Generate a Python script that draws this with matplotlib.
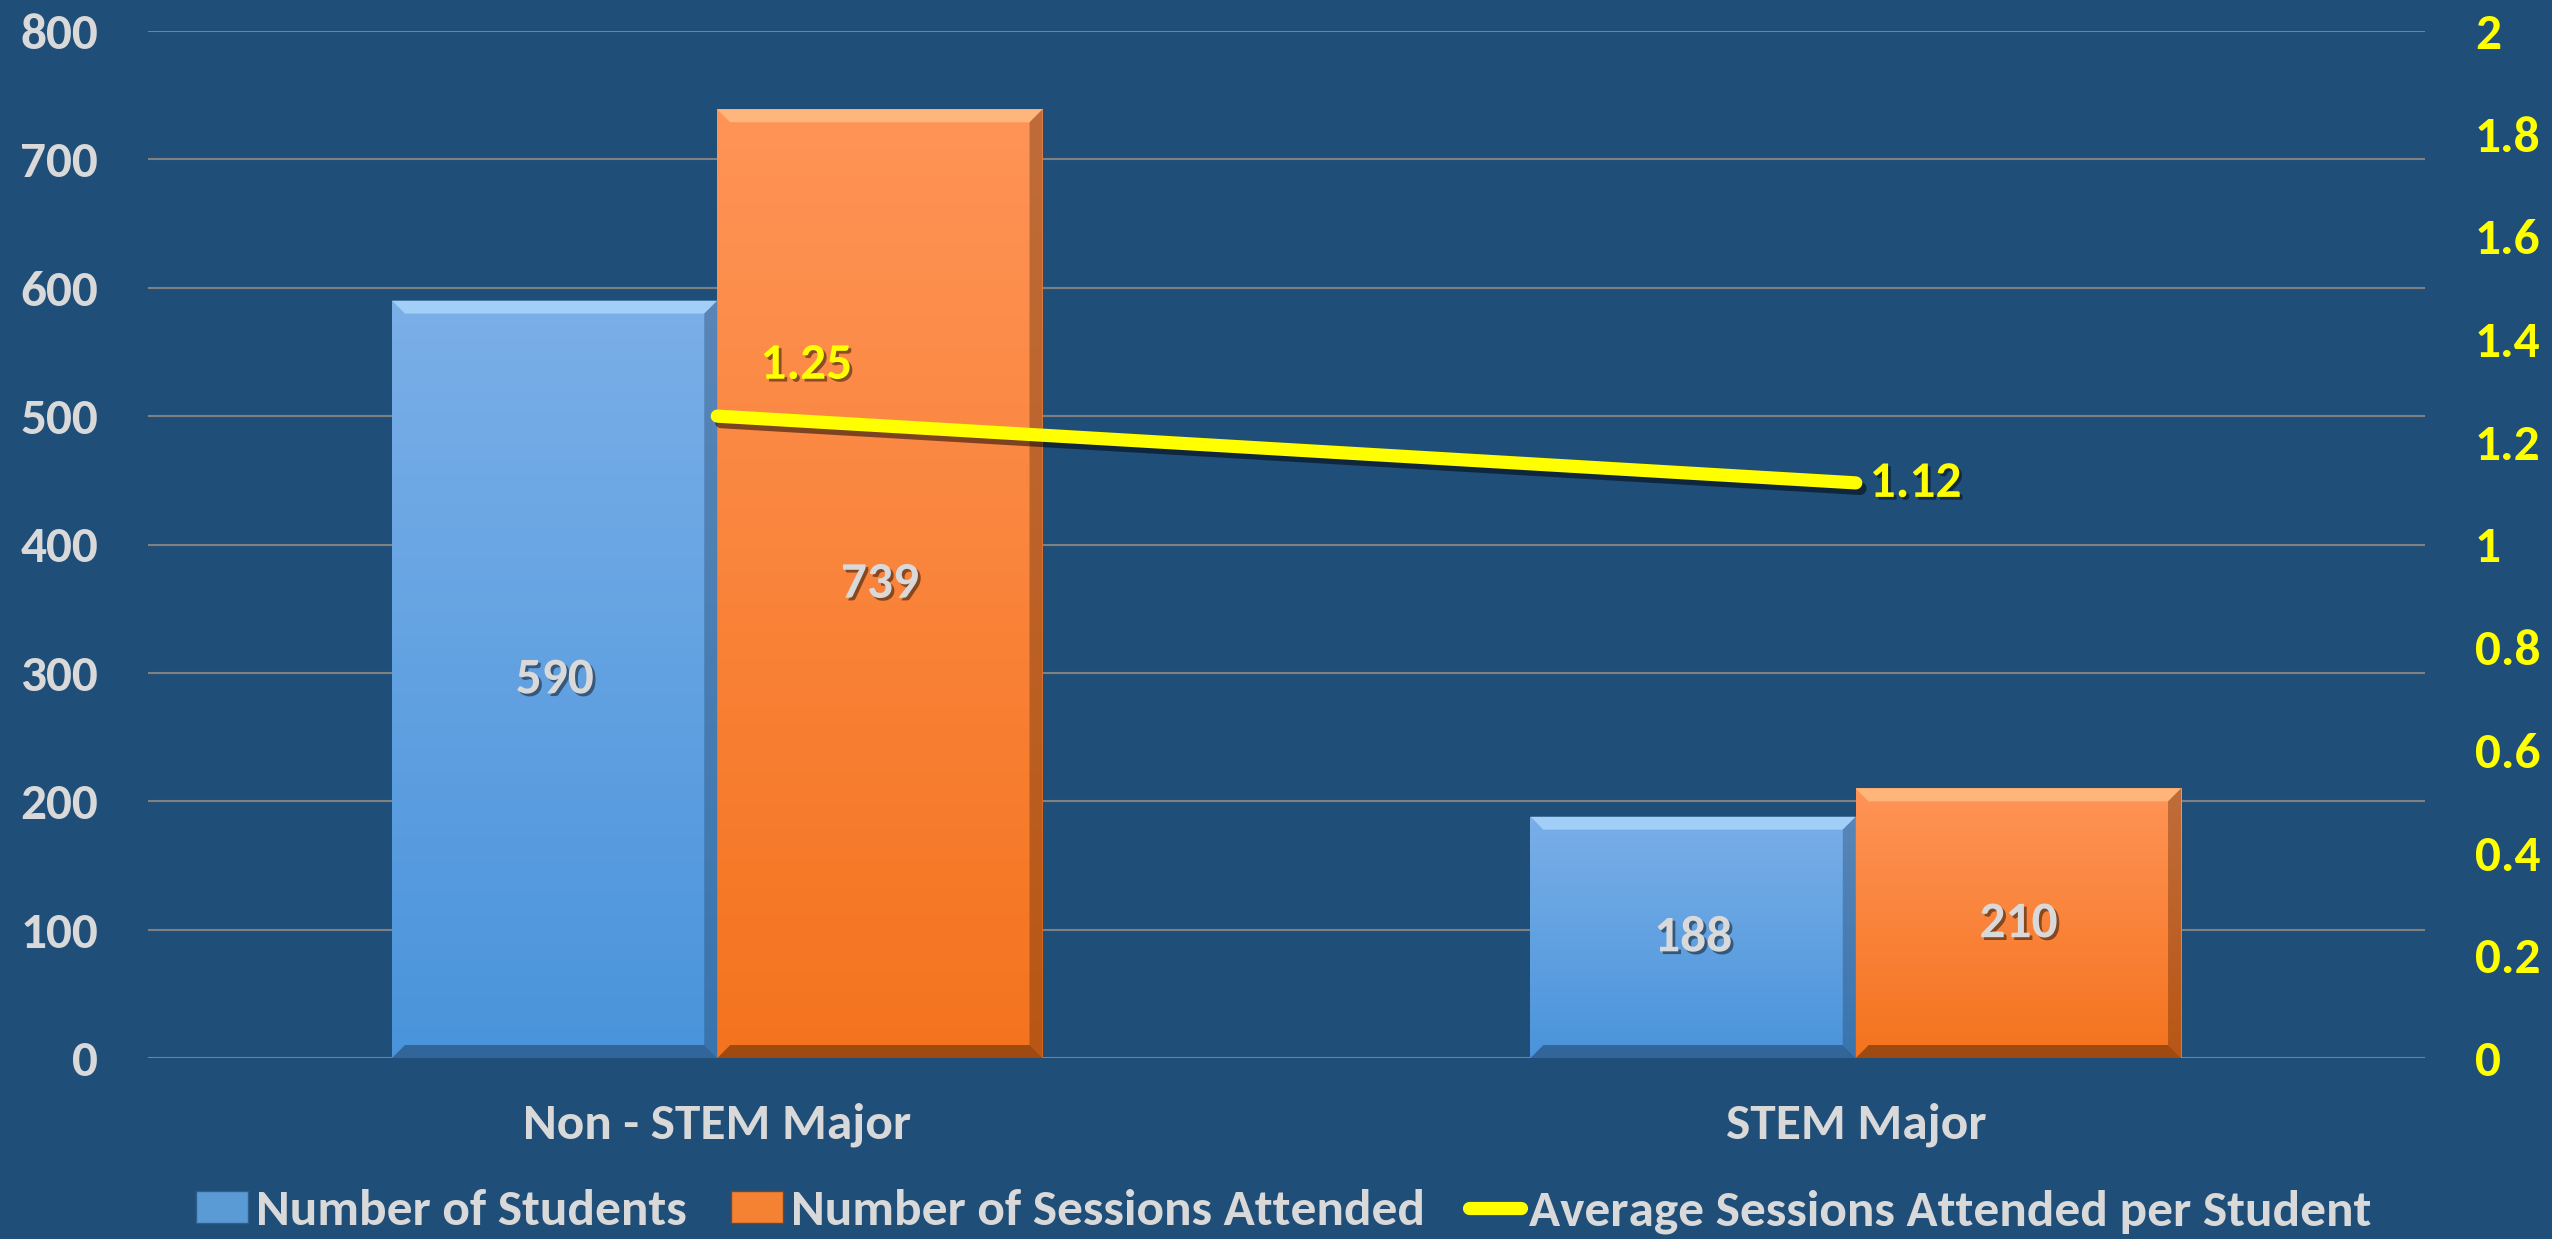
import numpy as np
import matplotlib
matplotlib.use('Agg')
import matplotlib.pyplot as plt
import matplotlib.patheffects as pe
from matplotlib.patches import Polygon, Patch
from matplotlib.lines import Line2D

categories = ['Non - STEM Major', 'STEM Major']
students = [590, 188]
sessions = [739, 210]
avg_sessions = [1.25, 1.12]
left_ticks = [0, 100, 200, 300, 400, 500, 600, 700, 800]
right_ticks = [0, 0.2, 0.4, 0.6, 0.8, 1, 1.2, 1.4, 1.6, 1.8, 2]
right_labels = ['0', '0.2', '0.4', '0.6', '0.8', '1', '1.2', '1.4', '1.6', '1.8', '2']

plt.rcParams['font.family'] = ['Carlito', 'Lato', 'DejaVu Sans']
plt.rcParams['font.weight'] = 'bold'

bg = '#1F4E79'
grey_txt = '#D9D9D9'
yellow = '#FFFF00'
fs = 37

fig = plt.figure(figsize=(25.52, 12.39), dpi=100, facecolor=bg)
ax = fig.add_axes([148/2552, 1-1058/1239, 2277/2552, 1027/1239])
ax.set_facecolor(bg)
ax2 = ax.twinx()

x = np.arange(len(categories))
w = 1/3.5
ax.set_xlim(-0.5, 1.5)
ax.set_ylim(0, 800)
ax2.set_ylim(0, 2)

# px -> data helpers
dx = 2.0/2277
dy = 800/1027

shadow = [pe.SimplePatchShadow(offset=(2, -2), shadow_rgbFace='black', alpha=0.45), pe.Normal()]

def gradient_bars(bars, top_col, bot_col, light, dark):
    for b in bars:
        x0, w0, h = b.get_x(), b.get_width(), b.get_height()
        c1 = np.array(matplotlib.colors.to_rgb(top_col))
        c2 = np.array(matplotlib.colors.to_rgb(bot_col))
        t = np.linspace(0, 1, 100)[:, None]
        img = (c1 * (1 - t) + c2 * t)[:, None, :]
        im = ax.imshow(img, extent=[x0, x0 + w0, 0, h], aspect='auto', zorder=2)
        im.set_clip_path(b)
        bv = 13
        bx, by = bv*dx, bv*dy
        # top bevel
        ax.add_patch(Polygon([[x0, h], [x0+w0, h], [x0+w0-bx, h-by], [x0+bx, h-by]],
                             closed=True, fc=light, ec='none', alpha=0.7, zorder=3))
        # right bevel
        ax.add_patch(Polygon([[x0+w0, h], [x0+w0, 0], [x0+w0-bx, by], [x0+w0-bx, h-by]],
                             closed=True, fc=dark, ec='none', alpha=0.35, zorder=3))
        # bottom bevel
        ax.add_patch(Polygon([[x0, 0], [x0+w0, 0], [x0+w0-bx, by], [x0+bx, by]],
                             closed=True, fc=dark, ec='none', alpha=0.5, zorder=3))

b1 = ax.bar(x - w/2, students, w, color='#5B9BD5', edgecolor='none', zorder=2)
b2 = ax.bar(x + w/2, sessions, w, color='#F58233', edgecolor='none', zorder=2)
gradient_bars(b1, '#7AAFE8', '#4A94DB', '#B4DEFF', '#1B3A5C')
gradient_bars(b2, '#FF9457', '#F4731E', '#FFC58C', '#4A2305')
ax.set_xlim(-0.5, 1.5)
ax.set_ylim(0, 800)

for bars, vals in ((b1, students), (b2, sessions)):
    for b, v in zip(bars, vals):
        ax.text(b.get_x() + b.get_width()/2, v/2, str(v), ha='center', va='center',
                color=grey_txt, fontsize=fs, fontweight='bold', zorder=5, path_effects=shadow)

ax.set_yticks(left_ticks)
ax.grid(axis='y', color='#808080', linewidth=1.5, zorder=0)
ax.set_axisbelow(True)
ax.set_xticks(x)
ax.set_xticklabels(categories)
ax.tick_params(axis='x', length=0, pad=32, labelsize=fs, colors=grey_txt)
ax.tick_params(axis='y', length=0, pad=36, labelsize=fs, colors=grey_txt)
for s in ax.spines.values():
    s.set_visible(False)
for s in ax2.spines.values():
    s.set_visible(False)

ax2.set_yticks(right_ticks)
ax2.set_yticklabels(right_labels)
ax2.tick_params(axis='y', length=0, pad=36, labelsize=fs, colors=yellow)

line, = ax2.plot(x, avg_sessions, color=yellow, linewidth=9.5, solid_capstyle='round', zorder=6,
                 path_effects=[pe.SimpleLineShadow(offset=(3, -4), shadow_color='black', alpha=0.5), pe.Normal()])
ax2.annotate(f'{avg_sessions[0]:.2f}', (x[0], avg_sessions[0]), xytext=(64, 37), textcoords='offset points',
             ha='center', va='center', color=yellow, fontsize=fs, fontweight='bold', path_effects=shadow)
ax2.annotate(f'{avg_sessions[1]:.2f}', (x[1], avg_sessions[1]), xytext=(10, 0), textcoords='offset points',
             ha='left', va='center', color=yellow, fontsize=fs, fontweight='bold', path_effects=shadow)

handles = [Patch(facecolor='#5B9BD5', edgecolor='#2E5F8F'),
           Patch(facecolor='#F58233', edgecolor='#8A4212'),
           Line2D([0], [0], color=yellow, linewidth=9.5, solid_capstyle='round')]
labels = ['Number of Students', 'Number of Sessions Attended', 'Average Sessions Attended per Student']
leg = fig.legend(handles, labels, loc='center', bbox_to_anchor=(0.503, 0.022), ncol=3, frameon=False,
                 fontsize=fs, labelcolor=grey_txt, handlelength=1.01, handleheight=0.58,
                 handletextpad=0.16, columnspacing=0.86, borderaxespad=0)
for t in leg.get_texts():
    t.set_fontweight('bold')

fig.savefig('out.png', dpi=100, facecolor=bg)
